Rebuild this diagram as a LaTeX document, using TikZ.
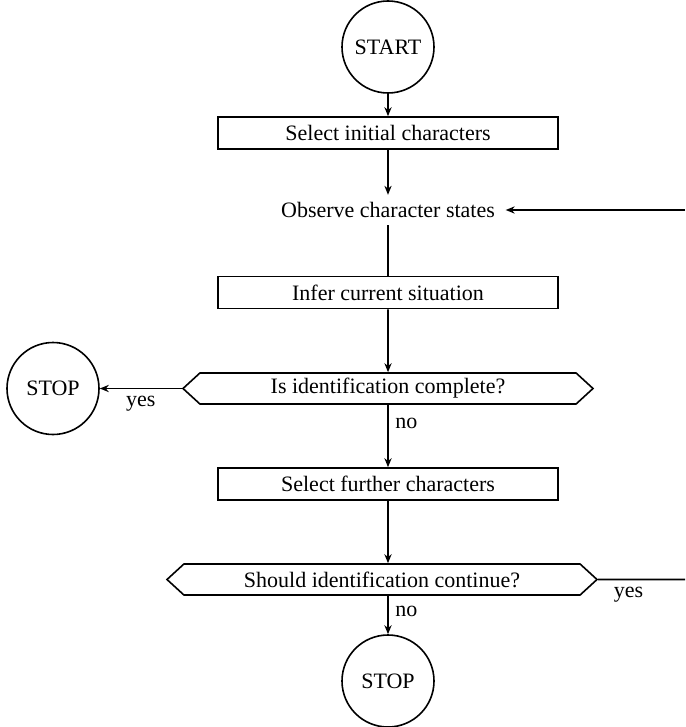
\documentclass[tikz,border=0pt]{standalone}
\usepackage{fontspec}
\setmainfont{Liberation Serif}
\usetikzlibrary{arrows.meta,shapes.symbols}

\begin{document}
\begin{tikzpicture}[x=0.5pt, y=-0.5pt, font=\fontsize{11}{13}\selectfont, line width=0.8pt,
    >={Stealth[length=4.5pt,width=3.6pt]},
    term/.style={draw, circle, minimum size=46pt, inner sep=0pt},
    stepbox/.style={draw, minimum width=170pt, minimum height=16pt, inner sep=0pt},
    query/.style={draw, signal, signal to=west and east, signal pointer angle=85,
      minimum height=15.5pt, inner sep=0pt}]
      \useasboundingbox (0,0) rectangle (685,727);
      \node[term] (start) at (388,47) {START};
      \node[stepbox] (init) at (388,133) {Select initial characters};
      \node[inner xsep=5pt] (observe) at (388,210) {Observe character states};
      \node[stepbox] (infer) at (388,292.5) {Infer current situation};
      \node[query, minimum width=205pt] (complete) at (388,388.5) {Is identification complete?};
      \node[term] (stopL) at (53,388.5) {STOP};
      \node[stepbox] (further) at (388,484) {Select further characters};
      \node[query, minimum width=215pt] (continue) at (382,579.5) {Should identification continue?};
      \node[term] (stopB) at (388,681) {STOP};
      \coordinate (backin) at (685,210);
      \coordinate (backout) at (685,579.5);
      \draw[->] (start) -- (init); \draw[->] (init) -- (observe);
      \draw (observe) -- (infer); \draw[->] (infer) -- (complete);
      \draw[->] (complete) -- node[below] {yes} (stopL);
      \draw[->] (complete) -- node[right, pos=0.3] {no} (further);
      \draw[->] (further) -- (further |- continue.north);
      \draw[->] (continue.south -| stopB) -- node[right, pos=0.4] {no} (stopB);
      \draw (continue) -- node[below, pos=0.35] {yes} (backout);
      \draw[->] (backin) -- (backin -| observe.east);
    \end{tikzpicture}
\end{document}
